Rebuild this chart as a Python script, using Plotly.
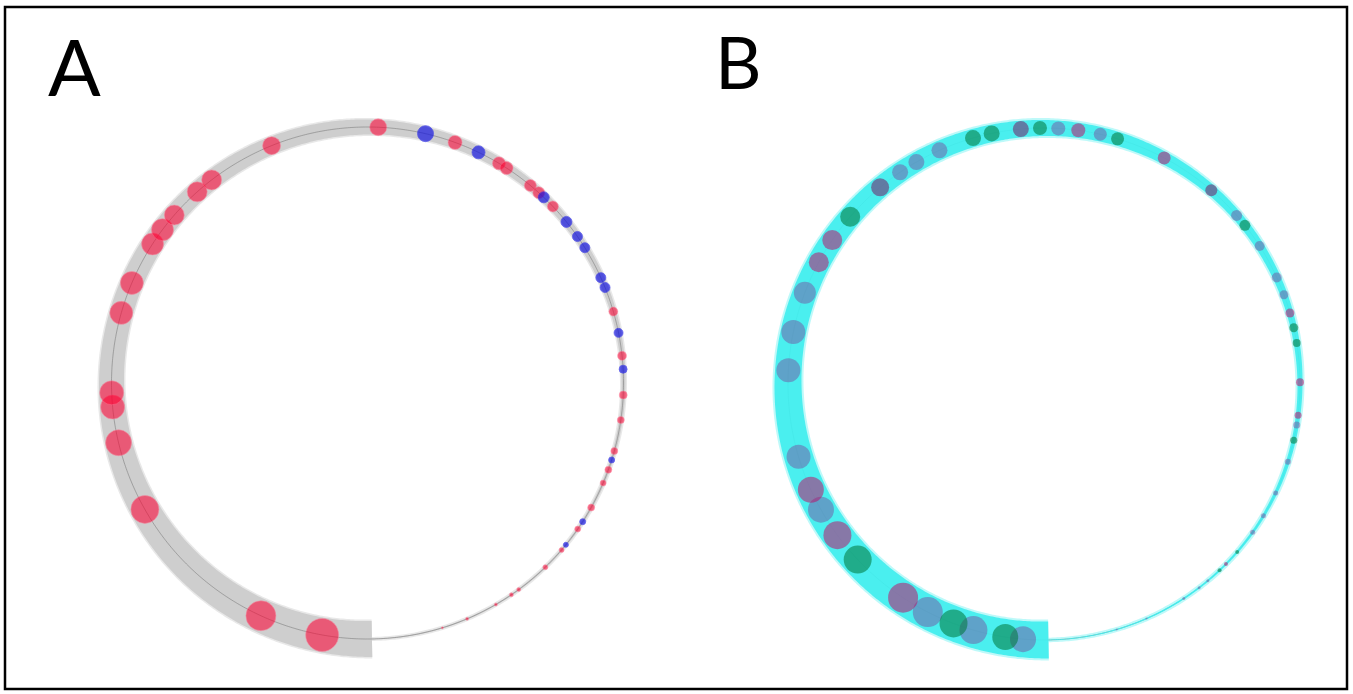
import numpy as np
import plotly.graph_objects as go

# ---------------- data ----------------
# bearing = degrees clockwise from 12 o'clock; the ring starts just right of 6 o'clock
# and runs clockwise once round, getting thinner.
RING_START = 179.0
RING_END = 539.0

# ring width (px) read at several bearings
A_ring_theta = [179, 225, 270, 315, 360, 405, 450, 495, 539]
A_ring_width = [36, 31, 25, 20, 15, 9, 4, 2, 1]
B_ring_theta = [179, 225, 270, 315, 360, 405, 450, 495, 539]
B_ring_width = [38, 33, 28, 22, 17, 11, 6, 3, 1.5]

# Panel A markers
A_red_theta = [190.2, 204.6, 240.4, 256.5, 264.6, 267.8, 285.9, 293.0, 302.9, 306.8,
               311.0, 318.3, 322.5, 338.0, 362.4, 380.0, 390.9, 392.9, 399.5, 402.0,
               406.4, 433.8, 443.9, 452.7, 458.3, 465.4, 469.8, 473.0, 479.1, 484.8,
               490.7, 496.0, 503.8, 505.8, 509.9, 517.1, 523.0]
A_red_size = [33, 30, 28, 26, 24, 24, 23, 23, 22, 22,
              20, 20, 20, 18, 17, 14, 13, 13, 12, 12,
              11, 9, 9, 8, 7, 7, 7, 6, 7, 6,
              5, 5, 4, 4, 3, 3, 2]
A_blue_theta = [373.1, 385.7, 403.5, 411.0, 415.1, 418.1, 425.7, 428.1, 438.7, 446.9,
                467.5, 482.8, 489.2]
A_blue_size = [16, 13, 11, 11, 10, 10, 10, 10, 9, 8, 6, 6, 5]

# Panel B markers
B_theta = [184.7, 188.7, 196.0, 200.7, 207.0, 213.4, 226.7, 233.8, 240.6, 245.6,
           253.5, 273.1, 281.7, 290.9, 298.4, 304.2, 310.8, 320.2, 325.8, 330.1,
           335.9, 343.9, 348.2, 354.8, 359.1, 363.2, 367.7, 372.7, 376.7, 388.0,
           400.8, 408.8, 411.7, 417.4, 425.4, 429.6, 433.9, 437.3, 440.8, 449.6,
           457.0, 459.2, 462.7, 467.7, 475.2, 481.0, 485.4, 491.0, 494.7, 496.7,
           500.2, 502.7, 506.9, 516.4, 523.5]
B_size = [26, 26, 28, 28, 30, 30, 28, 28, 26, 26,
          24, 24, 24, 22, 20, 20, 20, 18, 16, 16,
          16, 16, 16, 16, 14, 14, 14, 13, 13, 13,
          12, 11, 11, 10, 10, 9, 9, 9, 8, 8,
          7, 7, 7, 6, 5, 5, 5, 4, 4, 4,
          3, 3, 3, 2, 2]
B_group = ['P', 'G', 'P', 'G', 'P', 'M', 'G', 'M', 'P', 'M',
           'P', 'P', 'P', 'P', 'M', 'M', 'G', 'D', 'P', 'P',
           'P', 'G', 'G', 'D', 'G', 'P', 'M', 'P', 'G', 'M',
           'D', 'P', 'G', 'P', 'P', 'P', 'M', 'G', 'G', 'M',
           'M', 'P', 'G', 'P', 'P', 'P', 'P', 'G', 'M', 'G',
           'P', 'P', 'P', 'P', 'P']

PANEL_LABELS = ['A', 'B']

# ---------------- figure ----------------
W, H = 1353, 694
R_PX = 256.0          # ring radius in px
RMAX = 1.12           # radial range
half = R_PX * RMAX


def domain(cx, cy):
    return dict(x=[(cx - half) / W, (cx + half) / W],
                y=[(H - cy - half) / H, (H - cy + half) / H])


fig = go.Figure()


def add_line(polar, line_col):
    th = np.linspace(RING_START, RING_END, 721)
    fig.add_trace(go.Scatterpolar(r=np.ones_like(th), theta=th, mode='lines',
                                  line=dict(color=line_col, width=1),
                                  subplot=polar, hoverinfo='skip', showlegend=False))


def add_ring(polar, ring_theta, ring_width, layers):
    th = np.linspace(RING_START, RING_END, 721)
    w = np.interp(th, ring_theta, ring_width)
    for extra, col in layers:
        half_w = np.maximum(w + extra, 0.3) / 2.0 / R_PX
        r = np.concatenate([1 + half_w, (1 - half_w)[::-1]])
        t = np.concatenate([th, th[::-1]])
        fig.add_trace(go.Scatterpolar(r=r, theta=t, mode='lines', fill='toself',
                                      fillcolor=col, line=dict(width=0, color=col),
                                      subplot=polar, hoverinfo='skip', showlegend=False))


def add_markers(polar, theta, size, color, edge):
    fig.add_trace(go.Scatterpolar(r=[1.0] * len(theta), theta=theta, mode='markers',
                                  marker=dict(size=size, color=color,
                                              line=dict(width=1, color=edge)),
                                  cliponaxis=False, subplot=polar, showlegend=False))


# Panel A
add_ring('polar', A_ring_theta, A_ring_width,
         [(3.0, 'rgba(222,222,222,0.7)'), (0.0, 'rgb(206,206,206)')])
add_line('polar', 'rgba(120,120,120,0.55)')
add_markers('polar', A_red_theta, A_red_size, 'rgba(255,0,50,0.8)', 'rgba(255,120,150,0.55)')
add_markers('polar', A_blue_theta, A_blue_size, 'rgba(15,15,225,0.95)', 'rgba(40,40,235,0.8)')

# Panel B
add_line('polar2', 'rgba(120,120,120,0.8)')
add_ring('polar2', B_ring_theta, B_ring_width,
         [(3.0, 'rgba(110,242,242,0.45)'), (-1.0, 'rgba(64,238,238,0.92)')])
B_colors = {'P': 'rgba(130,40,140,0.55)', 'M': 'rgba(200,0,95,0.7)',
            'G': 'rgba(0,120,60,0.8)', 'D': 'rgba(120,20,95,0.75)'}
for g in ['P', 'M', 'D', 'G']:
    idx = [i for i, v in enumerate(B_group) if v == g]
    add_markers('polar2', [B_theta[i] for i in idx], [B_size[i] for i in idx],
                B_colors[g], 'rgba(255,255,255,0)')

axis_off = dict(visible=False, showgrid=False, showline=False, showticklabels=False, ticks='')
polar_common = dict(bgcolor='white', hole=0,
                    radialaxis=dict(range=[0, RMAX], **axis_off),
                    angularaxis=dict(rotation=90, direction='clockwise', **axis_off))

fig.update_layout(
    width=W, height=H,
    margin=dict(l=0, r=0, t=0, b=0),
    paper_bgcolor='white', plot_bgcolor='white',
    polar=dict(domain=domain(367.5, 383), **polar_common),
    polar2=dict(domain=domain(1044, 384), **polar_common),
    shapes=[dict(type='rect', xref='paper', yref='paper',
                 x0=5 / W, x1=1347 / W, y0=1 - 689 / H, y1=1 - 7 / H,
                 line=dict(color='black', width=2.5), fillcolor='rgba(0,0,0,0)')],
    annotations=[
        dict(text=PANEL_LABELS[0], x=46 / W, y=1 - 66 / H, xref='paper', yref='paper',
             xanchor='left', yanchor='middle', showarrow=False,
             font=dict(family='Lato', size=78, color='black')),
        dict(text=PANEL_LABELS[1], x=713 / W, y=1 - 61 / H, xref='paper', yref='paper',
             xanchor='left', yanchor='middle', showarrow=False,
             font=dict(family='Lato', size=72, color='black')),
    ],
)

fig.write_html("out.html", config={'displayModeBar': False},
               post_script="document.body.style.margin='0';")
